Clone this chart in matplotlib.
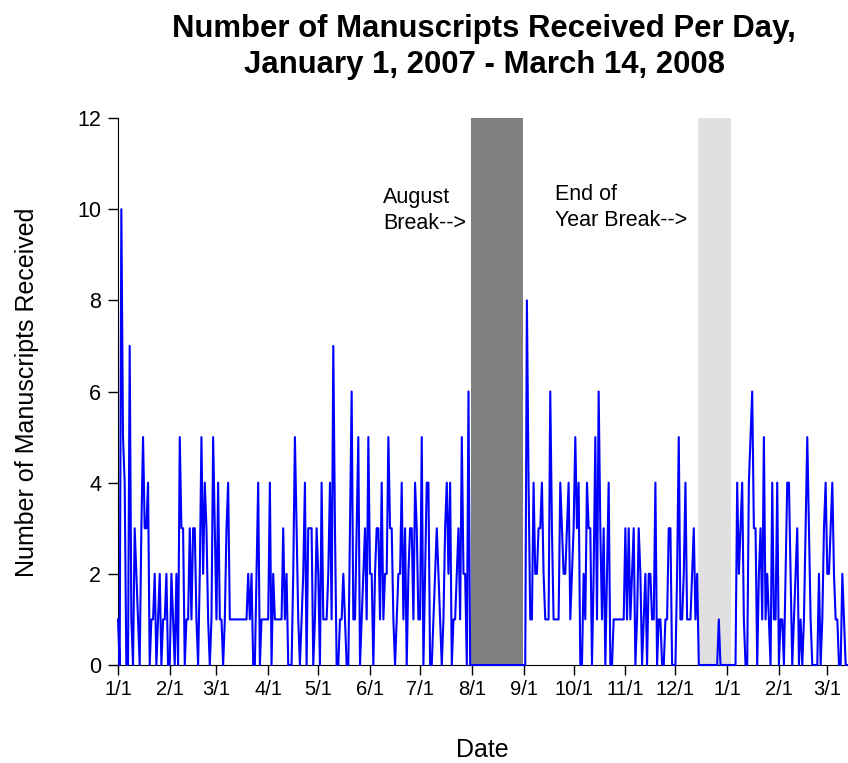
import matplotlib
matplotlib.use('Agg')
import matplotlib.pyplot as plt
import matplotlib.dates as mdates
from matplotlib.ticker import FuncFormatter
import numpy as np
import pandas as pd

plt.rcParams['font.family'] = ['Liberation Sans', 'DejaVu Sans']

# manuscripts received per day
jan07 = [1, 0, 10, 5, 4, 0, 0, 7, 1, 0, 3, 2, 1, 0, 3, 5, 3, 3, 4, 0, 1, 1, 2, 0, 1, 2, 0, 1, 1, 2, 0]
feb07 = [0, 2, 1, 0, 2, 0, 5, 3, 3, 0, 1, 1, 3, 1, 3, 3, 1, 0, 2, 5, 2, 4, 3, 1, 0, 1, 5, 3]
mar07 = [1, 4, 1, 1, 0, 1, 3, 4, 1, 1, 1, 1, 1, 1, 1, 1, 1, 1, 1, 2, 1, 2, 0, 0, 2, 4, 0, 1, 1, 1, 1]
apr07 = [1, 4, 0, 2, 1, 1, 1, 1, 1, 3, 1, 2, 0, 0, 0, 2, 5, 3, 1, 0, 1, 2, 4, 0, 3, 3, 3, 0, 1, 3]
may07 = [2, 0, 4, 1, 1, 1, 2, 4, 1, 7, 3, 0, 0, 1, 1, 2, 1, 0, 0, 3, 6, 1, 1, 3, 5, 0, 1, 2, 3, 1, 5]
jun07 = [2, 2, 0, 2, 3, 3, 1, 4, 1, 2, 2, 5, 3, 3, 1, 0, 1, 2, 2, 4, 1, 3, 0, 2, 3, 3, 1, 4, 3, 1]
jul07 = [1, 5, 0, 2, 4, 4, 0, 0, 1, 2, 3, 2, 1, 0, 1, 3, 4, 2, 4, 0, 1, 1, 2, 3, 1, 5, 2, 2, 0, 6, 0]
aug07 = [0, 0, 0, 0, 0, 0, 0, 0, 0, 0, 0, 0, 0, 0, 0, 0, 0, 0, 0, 0, 0, 0, 0, 0, 0, 0, 0, 0, 0, 0, 0]
sep07 = [0, 0, 8, 4, 1, 1, 4, 2, 2, 3, 3, 4, 2, 1, 1, 1, 6, 3, 1, 1, 1, 1, 4, 3, 2, 2, 3, 4, 1, 2]
oct07 = [3, 5, 3, 4, 0, 0, 2, 1, 4, 3, 3, 0, 2, 5, 1, 6, 3, 1, 3, 0, 2, 4, 0, 0, 1, 1, 1, 1, 1, 1, 1]
nov07 = [3, 1, 3, 1, 2, 3, 0, 1, 3, 2, 0, 1, 2, 0, 2, 2, 1, 1, 4, 0, 1, 1, 0, 0, 1, 1, 3, 3, 0, 0]
dec07 = [0, 2, 5, 1, 1, 2, 4, 1, 1, 1, 2, 3, 1, 2, 0, 0, 0, 0, 0, 0, 0, 0, 0, 0, 0, 0, 1, 0, 0, 0, 0]
jan08 = [0, 0, 0, 0, 0, 0, 4, 2, 3, 4, 1, 0, 0, 4, 5, 6, 3, 3, 0, 2, 3, 1, 5, 1, 2, 1, 0, 4, 1, 1, 4]
feb08 = [0, 1, 1, 0, 2, 4, 4, 2, 0, 1, 2, 3, 0, 1, 0, 1, 3, 5, 3, 1, 0, 0, 0, 0, 2, 0, 1, 3, 4]
mar08 = [2, 2, 3, 4, 2, 1, 1, 0, 0, 2, 1, 0, 0, 0]

start_date = '2007-01-01'
end_date = '2008-03-14'
aug_break = ('2007-08-01', '2007-08-31')
year_break = ('2007-12-15', '2008-01-03')
yticks = [0, 2, 4, 6, 8, 10, 12]

counts = np.array(jan07 + feb07 + mar07 + apr07 + may07 + jun07 + jul07 + aug07
                  + sep07 + oct07 + nov07 + dec07 + jan08 + feb08 + mar08)
dates = pd.date_range(start_date, end_date, freq='D')

half_day = pd.Timedelta(hours=12)

fig = plt.figure(figsize=(8.48, 7.63), dpi=100)
ax = fig.add_axes([118 / 848, 1 - 665 / 763, 730 / 848, 547 / 763])

ax.axvspan(pd.Timestamp(aug_break[0]) - half_day, pd.Timestamp(aug_break[1]) + half_day,
           color='#808080', lw=0, zorder=1)
ax.axvspan(pd.Timestamp(year_break[0]) - half_day, pd.Timestamp(year_break[1]) + half_day,
           color='#e0e0e0', lw=0, zorder=1)
ax.plot(dates, counts, color='#0000ff', linewidth=1.5, zorder=3, clip_on=False)

ax.set_ylim(0, 12)
ax.set_xlim(pd.Timestamp(start_date), pd.Timestamp(start_date) + pd.Timedelta(days=437.4))
ax.set_yticks(yticks)
ax.xaxis.set_major_locator(mdates.MonthLocator())
ax.xaxis.set_major_formatter(FuncFormatter(lambda v, pos: '%d/%d' % (mdates.num2date(v).month, mdates.num2date(v).day)))

ax.spines['top'].set_visible(False)
ax.spines['right'].set_visible(False)
ax.tick_params(axis='y', labelsize=15.5, length=7, width=1, pad=5)
ax.tick_params(axis='x', labelsize=14.5, length=7, width=1, pad=4)

ax.text(pd.Timestamp('2007-06-09'), 10.49, 'August\nBreak-->', fontsize=15.5,
        ha='left', va='top', linespacing=1.3)
ax.text(pd.Timestamp('2007-09-20'), 10.55, 'End of\nYear Break-->', fontsize=15.5,
        ha='left', va='top', linespacing=1.3)

fig.text(484 / 848, 1 - 47 / 763, 'Number of Manuscripts Received Per Day,\nJanuary 1, 2007 - March 14, 2008',
         ha='center', va='center', fontsize=22.4, fontweight='bold', linespacing=1.25)
fig.text(482 / 848, 1 - 750 / 763, 'Date', ha='center', va='center', fontsize=18)
fig.text(27 / 848, 1 - 392 / 763, 'Number of Manuscripts Received', ha='center', va='center',
         rotation=90, fontsize=18)

plt.savefig('out.png', dpi=100)
